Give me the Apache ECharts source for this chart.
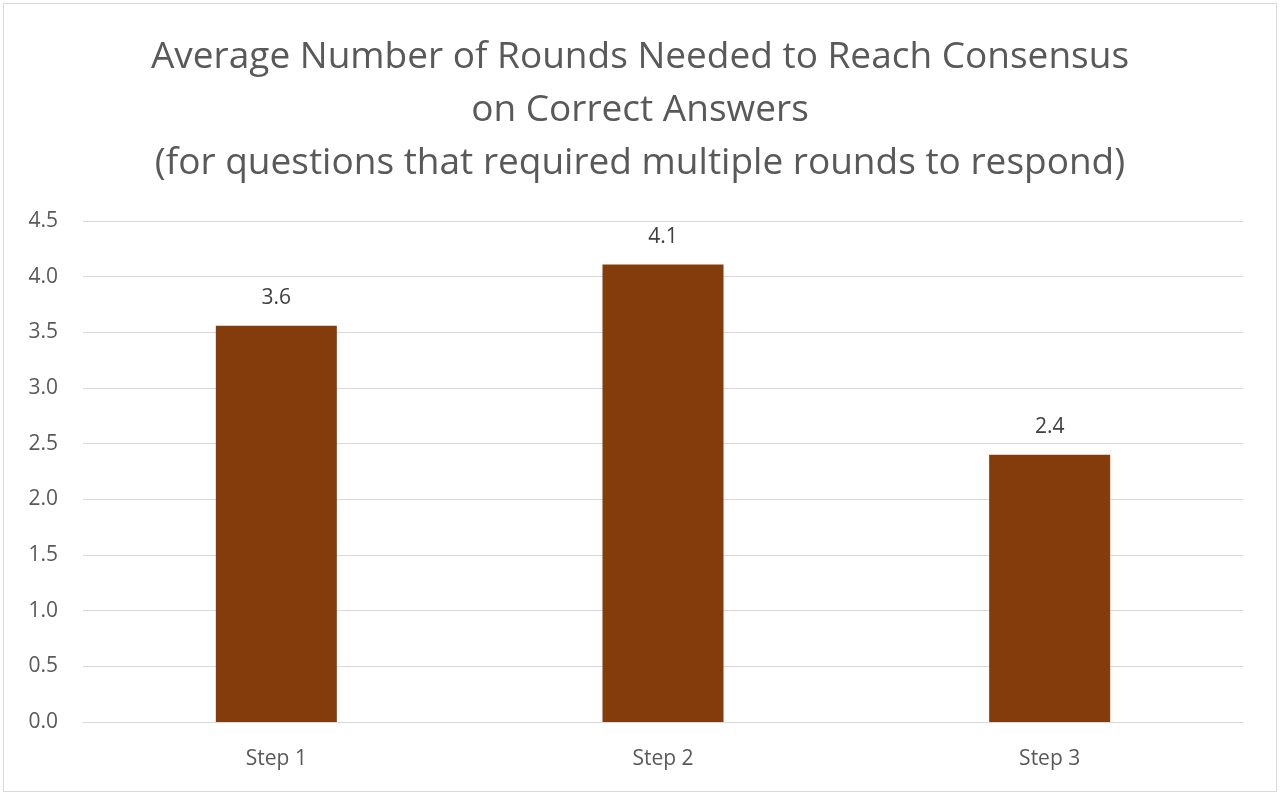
<!DOCTYPE html>
<html><head><meta charset="utf-8">
<script src="https://cdn.jsdelivr.net/npm/echarts@6/dist/echarts.min.js"></script>
<style>
html,body{margin:0;padding:0;background:#fff;}
#c{position:absolute;left:3px;top:3px;width:1272px;height:787px;border:1px solid #d9d9d9;}
</style></head>
<body><div id="c"></div>
<script>
const categories = ['Step 1', 'Step 2', 'Step 3'];
const values = [3.56, 4.11, 2.40];
const labels = ['3.6', '4.1', '2.4'];
const titleText = 'Average Number of Rounds Needed to Reach Consensus\non Correct Answers\n(for questions that required multiple rounds to respond)';

const chart = echarts.init(document.getElementById('c'));
chart.setOption({
  animation: false,
  title: {
    text: titleText,
    left: 'center',
    top: 22,
    textStyle: {fontFamily: 'Open Sans', fontWeight: 'normal', fontSize: 37, color: '#595959', lineHeight: 53}
  },
  grid: {left: 79, right: 33, top: 217, bottom: 69},
  xAxis: {
    type: 'category',
    data: categories,
    axisLine: {lineStyle: {color: '#d9d9d9'}},
    axisTick: {show: false},
    axisLabel: {color: '#595959', fontFamily: 'Open Sans', fontSize: 21, margin: 27}
  },
  yAxis: {
    type: 'value',
    min: 0, max: 4.5, interval: 0.5,
    axisLine: {show: false},
    axisTick: {show: false},
    splitLine: {lineStyle: {color: '#d9d9d9', width: 1}},
    axisLabel: {color: '#595959', fontFamily: 'Open Sans', fontSize: 21, margin: 25, formatter: v => v.toFixed(1)}
  },
  series: [{
    type: 'bar',
    data: values,
    barWidth: '31.3%',
    itemStyle: {color: '#843C0C'},
    label: {
      show: true, position: 'top', distance: 17,
      color: '#404040', fontFamily: 'Open Sans', fontSize: 21,
      formatter: p => labels[p.dataIndex]
    }
  }]
});
</script></body></html>
